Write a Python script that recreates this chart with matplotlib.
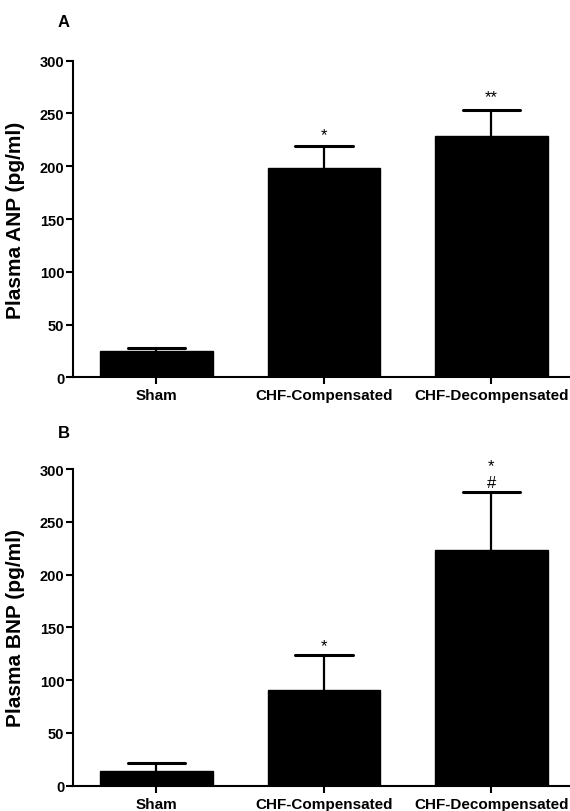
import matplotlib
matplotlib.use("Agg")
import matplotlib.pyplot as plt

plt.rcParams['font.family'] = ['Liberation Sans', 'DejaVu Sans']

categories = ["Sham", "CHF-Compensated", "CHF-Decompensated"]
anp_mean = [24.6, 198, 229]
anp_err = [3.2, 21.4, 24.5]
bnp_mean = [14.2, 90.7, 223.6]
bnp_err = [7.3, 33.1, 54.9]
anp_marks = ["", "*", "**"]
bnp_marks = ["", "*", "#"]
bnp_marks_top = ["", "", "*"]
yticks = [0, 50, 100, 150, 200, 250, 300]

fig = plt.figure(figsize=(5.70, 8.12), dpi=100)

BAR_W = 0.672
CAP_HALF = 0.172


def panel(rect, means, errs, ylabel, letter, letter_y, marks, mark_gap, top_marks=None):
    ax = fig.add_axes(rect)
    x = list(range(len(categories)))
    tops = [m + e for m, e in zip(means, errs)]
    ax.bar(x, means, width=BAR_W, color='black', edgecolor='black', zorder=2)
    ax.vlines(x, means, tops, colors='black', linewidth=1.6, zorder=3)
    ax.hlines(tops, [xi - CAP_HALF for xi in x], [xi + CAP_HALF for xi in x],
              colors='black', linewidth=2.2, zorder=3, capstyle='round')
    ax.set_xlim(-0.5, 2.47)
    ax.set_ylim(0, 300)
    ax.set_yticks(yticks)
    ax.set_yticklabels([str(t) for t in yticks], fontsize=10.5, fontweight='bold')
    ax.set_xticks(x)
    ax.set_xticklabels(categories, fontsize=11, fontweight='bold')
    for s in ['top', 'right']:
        ax.spines[s].set_visible(False)
    for s in ['left', 'bottom']:
        ax.spines[s].set_linewidth(1.5)
    ax.tick_params(axis='y', length=5, width=1.5, pad=1)
    ax.tick_params(axis='x', length=5, width=1.5, pad=3)
    ax.set_ylabel(ylabel, fontsize=15, fontweight='bold')
    ax.yaxis.set_label_coords(-0.096, 0.5)
    for i, m in enumerate(marks):
        if m:
            ax.text(i, tops[i] + mark_gap[i], m, ha='center', va='center',
                    fontsize=12, clip_on=False)
    if top_marks:
        for i, m in enumerate(top_marks):
            if m:
                ax.text(i, tops[i] + mark_gap[i] + 15.5, m, ha='center',
                        va='center', fontsize=12, clip_on=False)
    fig.text(64 / 570, 1 - letter_y / 812, letter, fontsize=12, fontweight='bold',
             ha='center', va='center')
    return ax


panel([72.7 / 570, 1 - 378.3 / 812, 1 - 72.7 / 570, 316.6 / 812], anp_mean, anp_err,
      "Plasma ANP (pg/ml)", "A", 22.5, anp_marks, [0, 11, 12])
panel([72.7 / 570, 1 - 786.7 / 812, 1 - 72.7 / 570, 316.7 / 812], bnp_mean, bnp_err,
      "Plasma BNP (pg/ml)", "B", 433, bnp_marks, [0, 9, 9], bnp_marks_top)

fig.savefig("out.png", dpi=100)
